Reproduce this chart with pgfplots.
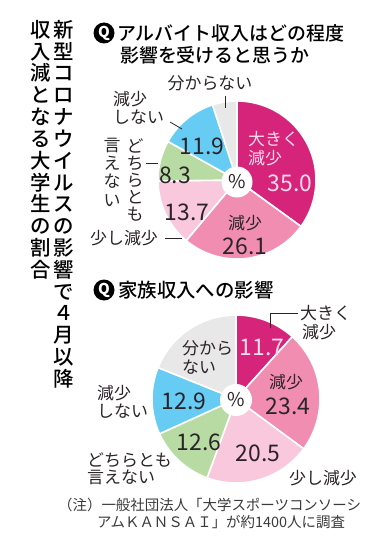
\documentclass[border=0pt]{standalone}
\usepackage{pgfplots}
\pgfplotsset{compat=1.18}
\usepackage{fontspec}
\setmainfont{Noto Sans CJK JP}
\newfontfamily\medium{Noto Sans CJK JP Medium}
\definecolor{cA}{HTML}{D6247A}
\definecolor{cB}{HTML}{F28DB2}
\definecolor{cC}{HTML}{FAC8DC}
\definecolor{cD}{HTML}{B8DBA3}
\definecolor{cE}{HTML}{66CCF4}
\definecolor{cF}{HTML}{E8E8E8}
\definecolor{txt}{HTML}{2A2328}
\definecolor{note}{HTML}{3A3A3A}
\definecolor{lite}{HTML}{FFDCEB}
% cx, cy, r, start (%), value (%), colour
\newcommand\slice[6]{%
  \addplot[fill=#6, draw=white, line width=1.6pt, domain={-90+3.6*(#4)}:{-90+3.6*(#4+#5)}, samples=60]
    ({#1+#3*cos(x)},{#2+#3*sin(x)}) -- (axis cs:#1,#2) -- cycle;
}
\newcommand\fs[1]{\fontsize{#1}{#1}\selectfont}
\begin{document}
\begin{tikzpicture}
\begin{axis}[hide axis, scale only axis, width=385bp, height=547bp,
  xmin=0, xmax=385, ymin=0, ymax=547, y dir=reverse, clip=false]
% ---- pie 1: アルバイト収入
\slice{237}{180}{79}{0}{35.0}{cA}
\slice{237}{180}{79}{35.0}{26.1}{cB}
\slice{237}{180}{79}{61.1}{13.7}{cC}
\slice{237}{180}{79}{74.8}{8.3}{cD}
\slice{237}{180}{79}{83.1}{11.9}{cE}
\slice{237}{180}{79}{95.0}{5.0}{cF}
% ---- pie 2: 家族収入
\slice{236}{399}{84}{0}{11.7}{cA}
\slice{236}{399}{84}{11.7}{23.4}{cB}
\slice{236}{399}{84}{35.1}{20.5}{cC}
\slice{236}{399}{84}{55.6}{12.6}{cD}
\slice{236}{399}{84}{68.2}{12.9}{cE}
\slice{236}{399}{84}{81.1}{18.9}{cF}

% holes
\node[circle, fill=white, minimum size=31bp, inner sep=0, text=txt, font=\fs{19}] at (237,182) {\%};
\node[circle, fill=white, minimum size=32bp, inner sep=0, text=txt, font=\fs{19}] at (236,400) {\%};

% vertical title
\node[anchor=north, align=center, inner sep=0, font=\medium\fontsize{20.5}{21.9}\selectfont] at (64,20)
  {新\\型\\コ\\ロ\\ナ\\ウ\\イ\\ル\\ス\\の\\影\\響\\で\\４\\月\\以\\降};
\node[anchor=north, align=center, inner sep=0, font=\medium\fontsize{20.5}{21.9}\selectfont] at (41,20)
  {収\\入\\減\\と\\な\\る\\大\\学\\生\\の\\割\\合};

% titles
\node[circle, fill=black, text=white, inner sep=0, minimum size=21bp, font=\bfseries\fs{15}] at (104,33) {Q};
\node[anchor=west, inner sep=0, font=\medium\fs{19}] at (117,33) {アルバイト収入はどの程度};
\node[anchor=west, inner sep=0, font=\medium\fs{19}] at (120,55) {影響を受けると思うか};
\node[circle, fill=black, text=white, inner sep=0, minimum size=21bp, font=\bfseries\fs{15}] at (104,290) {Q};
\node[anchor=west, inner sep=0, font=\medium\fs{19.5}] at (118,290) {家族収入への影響};

% pie 1 labels
\node[inner sep=0, font=\fs{17}, text=txt] at (210,83) {分からない};
\draw[txt, line width=0.8pt] (225.5,96) -- (225.5,108);
\node[anchor=west, inner sep=0, font=\fs{17}, text=txt] at (113,99) {減少};
\node[anchor=west, inner sep=0, font=\fs{17}, text=txt] at (113,117) {しない};
\draw[txt, line width=0.8pt] (170,122) -- (182,129);
\node[anchor=north, align=center, inner sep=0, font=\fontsize{17}{17.2}\selectfont, text=txt] at (135,138) {ど\\ち\\ら\\と\\も};
\node[anchor=north, align=center, inner sep=0, font=\fontsize{17}{18.3}\selectfont, text=txt] at (112,138) {言\\え\\な\\い};
\draw[txt, line width=0.8pt] (146,163) -- (158,163);
\node[inner sep=0, font=\fs{17}, text=txt] at (124,238) {少し減少};
\draw[txt, line width=0.8pt] (165,238) -- (182,238);
\node[inner sep=0, font=\fs{23}, text=txt] at (202,146) {11.9};
\node[inner sep=0, font=\fs{23}, text=txt] at (175,175) {8.3};
\node[inner sep=0, font=\fs{23}, text=txt] at (187,212) {13.7};
\node[inner sep=0, font=\fs{17}, text=txt] at (245,223) {減少};
\node[inner sep=0, font=\fs{23}, text=txt] at (245,246) {26.1};
\node[anchor=west, inner sep=0, font=\fs{17}, text=lite] at (248,139) {大きく};
\node[anchor=west, inner sep=0, font=\fs{17}, text=lite] at (248,158) {減少};
\node[inner sep=0, font=\fs{23}, text=lite] at (290,183) {35.0};

% pie 2 labels
\node[anchor=west, inner sep=0, font=\fs{17}, text=txt] at (300,313) {大きく};
\node[anchor=west, inner sep=0, font=\fs{17}, text=txt] at (302,332) {減少};
\draw[txt, line width=0.8pt] (270,328) -- (270,313) -- (298,313);
\node[anchor=west, inner sep=0, font=\fs{17}, text=txt] at (182,348) {分から};
\node[anchor=west, inner sep=0, font=\fs{17}, text=txt] at (182,367) {ない};
\node[inner sep=0, font=\fs{23}, text=lite] at (262,347) {11.7};
\node[inner sep=0, font=\fs{17}, text=txt] at (286,382) {減少};
\node[inner sep=0, font=\fs{23}, text=txt] at (288,406) {23.4};
\node[inner sep=0, font=\fs{23}, text=txt] at (184,401) {12.9};
\node[inner sep=0, font=\fs{23}, text=txt] at (199,442) {12.6};
\node[inner sep=0, font=\fs{23}, text=txt] at (258,453) {20.5};
\node[anchor=west, inner sep=0, font=\fs{17}, text=txt] at (97,393) {減少};
\node[anchor=west, inner sep=0, font=\fs{17}, text=txt] at (97,411) {しない};
\node[anchor=west, inner sep=0, font=\fs{17}, text=txt] at (87,460) {どちらとも};
\node[anchor=west, inner sep=0, font=\fs{17}, text=txt] at (87,477) {言えない};
\node[inner sep=0, font=\fs{17}, text=txt] at (323,478) {少し減少};

% note
\node[anchor=west, inner sep=0, font=\fs{14.5}, text=note] at (58,505) {（注）一般社団法人「大学スポーツコンソーシ};
\node[anchor=west, inner sep=0, font=\fs{14.5}, text=note] at (97,522) {アムＫＡＮＳＡＩ」が約1400人に調査};
\end{axis}
\pgfresetboundingbox
\path[use as bounding box] (current axis.south west) rectangle (current axis.north east);
\end{tikzpicture}
\end{document}
